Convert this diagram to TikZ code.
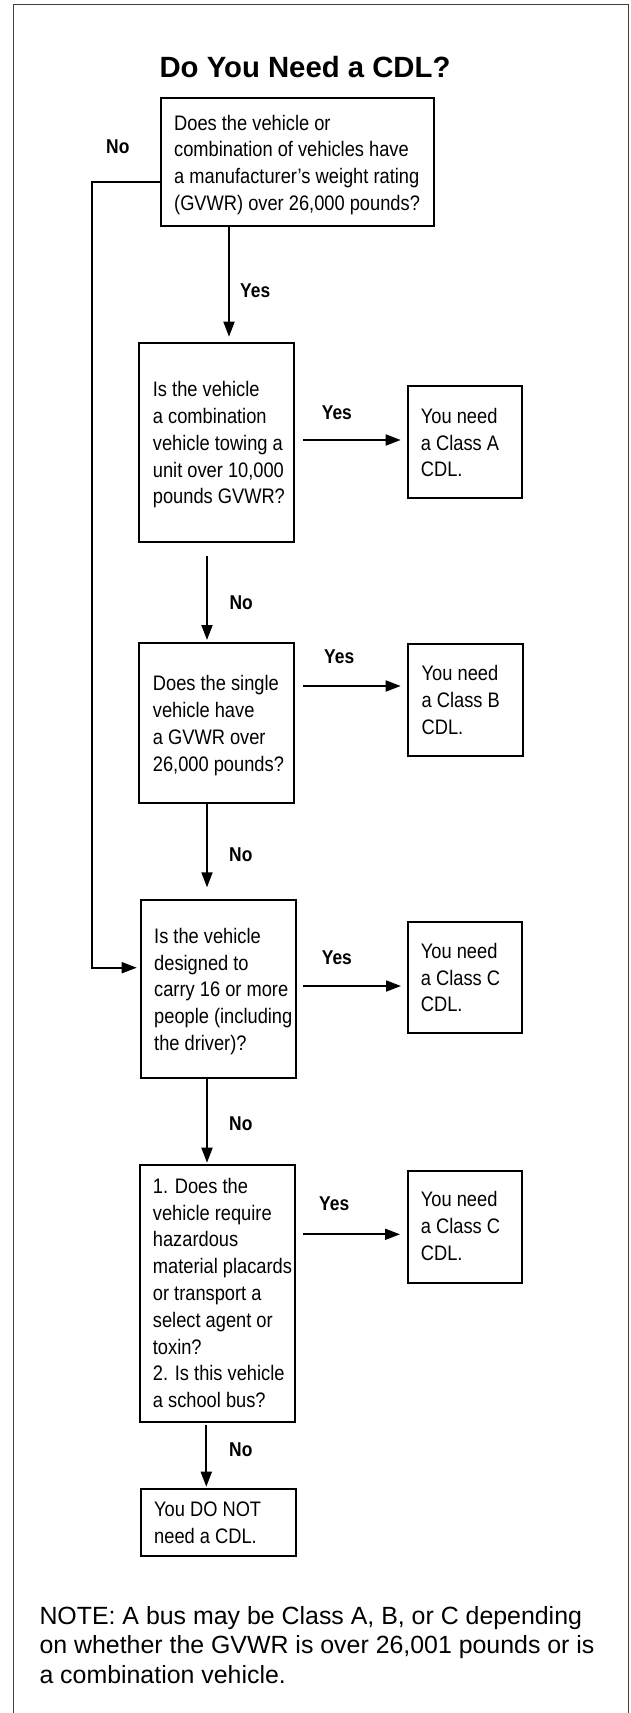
\documentclass[tikz,border=0pt]{standalone}
\usepackage{fontspec}
\setmainfont{Liberation Sans}
\newfontfamily\narrowfont[FakeStretch=0.87]{Liberation Sans}
\usetikzlibrary{arrows.meta}
\begin{document}
\begin{tikzpicture}[x=1pt,y=-1pt,
  box/.style={draw=black, line width=1.8pt, inner sep=0pt, outer sep=0pt},
  arr/.style={line width=1.8pt, -{Triangle[length=15pt,width=11pt]}},
  boxtext/.style={anchor=base west, inner sep=0pt, font=\narrowfont\fontsize{21}{26.8}\selectfont},
  lab/.style={anchor=base west, inner sep=0pt, font=\narrowfont\bfseries\fontsize{20}{24}\selectfont}]
\useasboundingbox (0,0) rectangle (630,1713);
% frame
\draw[line width=1.3pt, black!75] (13.5,1725) -- (13.5,4.8) -- (628.3,4.8) -- (628.3,1725);
% title
\node[anchor=base, inner sep=0pt, font=\bfseries\fontsize{29.3}{35}\selectfont] (title) at (305,77) {Do You Need a CDL?};
% boxes
\node[box, minimum width=273pt, minimum height=127.4pt] (b1) at (297.2,162) {};
\node[box, minimum width=155pt, minimum height=199pt] (b2) at (216.8,442.8) {};
\node[box, minimum width=155pt, minimum height=159.4pt] (b3) at (216.8,723) {};
\node[box, minimum width=154.7pt, minimum height=177.7pt] (b4) at (218.35,988.85) {};
\node[box, minimum width=155pt, minimum height=256.4pt] (b5) at (217.5,1293.5) {};
\node[box, minimum width=155pt, minimum height=66.4pt] (b6) at (218.2,1522.5) {};
\node[box, minimum width=114.3pt, minimum height=111.7pt] (cA) at (464.85,441.85) {};
\node[box, minimum width=114.4pt, minimum height=112pt] (cB) at (465.5,700) {};
\node[box, minimum width=114.3pt, minimum height=111.6pt] (cC1) at (464.85,977.5) {};
\node[box, minimum width=114.3pt, minimum height=112.3pt] (cC2) at (464.85,1227.15) {};
% box texts
\node[boxtext] (t1) at (174,130) {\begin{minipage}[t]{262pt}\raggedright Does the vehicle or\\combination of vehicles have\\a manufacturer’s weight rating\\(GVWR) over 26,000 pounds?\end{minipage}};
\node[boxtext] (t2) at (152.7,396.7) {\begin{minipage}[t]{145pt}\raggedright Is the vehicle\\a combination\\vehicle towing a\\unit over 10,000\\pounds GVWR?\end{minipage}};
\node[boxtext] (t3) at (152.7,690.7) {\begin{minipage}[t]{145pt}\raggedright Does the single\\vehicle have\\a GVWR over\\26,000 pounds?\end{minipage}};
\node[boxtext] (t4) at (154,943.3) {\begin{minipage}[t]{145pt}\raggedright Is the vehicle\\designed to\\carry 16 or more\\people (including\\the driver)?\end{minipage}};
\node[boxtext] (t5) at (152.7,1193.3) {\begin{minipage}[t]{145pt}\raggedright 1. Does the\\vehicle require\\hazardous\\material placards\\or transport a\\select agent or\\toxin?\\2. Is this vehicle\\a school bus?\end{minipage}};
\node[boxtext] (t6) at (154,1516.7) {\begin{minipage}[t]{145pt}\raggedright You DO NOT\\need a CDL.\end{minipage}};
\node[boxtext] (tA) at (420.7,423.3) {\begin{minipage}[t]{105pt}\raggedright You need\\a Class A\\CDL.\end{minipage}};
\node[boxtext] (tB) at (421.5,680.7) {\begin{minipage}[t]{105pt}\raggedright You need\\a Class B\\CDL.\end{minipage}};
\node[boxtext] (tC1) at (420.7,958.3) {\begin{minipage}[t]{105pt}\raggedright You need\\a Class C\\CDL.\end{minipage}};
\node[boxtext] (tC2) at (420.7,1206.7) {\begin{minipage}[t]{105pt}\raggedright You need\\a Class C\\CDL.\end{minipage}};
% note
\node[anchor=base west, inner sep=0pt, font=\fontsize{24.9}{29.5}\selectfont] (note) at (39.3,1624) {\begin{minipage}[t]{590pt}\raggedright NOTE: A bus may be Class A, B, or C depending\\on whether the GVWR is over 26,001 pounds or is\\a combination vehicle.\end{minipage}};
% helper coordinates
\coordinate (xY) at (229,0);
\coordinate (xD) at (207,0);
\coordinate (xD2) at (206.3,0);
\coordinate (xN) at (92.3,0);
\coordinate (yN1) at (0,181.7);
\coordinate (yN2) at (0,967.7);
\coordinate (yA) at (0,440);
\coordinate (yB) at (0,686);
\coordinate (yC1) at (0,986);
\coordinate (yC2) at (0,1234.3);
% connectors
\draw[arr, shorten >=6.6pt] (b1.south -| xY) -- (b2.north -| xY);
\draw[arr, shorten >=4.3pt] (b1.west |- yN1) -| (xN |- yN2) -- (b4.west |- yN2);
\draw[arr, shorten <=9pt, shorten >=7pt] (b2.east |- yA) -- (cA.west |- yA);
\draw[arr, shorten <=9pt, shorten >=7.6pt] (b3.east |- yB) -- (cB.west |- yB);
\draw[arr, shorten <=7.6pt, shorten >=6.7pt] (b4.east |- yC1) -- (cC1.west |- yC1);
\draw[arr, shorten <=8pt, shorten >=7.7pt] (b5.east |- yC2) -- (cC2.west |- yC2);
\draw[arr, shorten <=13.4pt, shorten >=3.3pt] (b2.south -| xD) -- (b3.north -| xD);
\draw[arr, shorten >=12.7pt] (b3.south -| xD) -- (b4.north -| xD);
\draw[arr, shorten >=2.6pt] (b4.south -| xD) -- (b5.north -| xD);
\draw[arr, shorten <=3.3pt, shorten >=2.6pt] (b5.south -| xD2) -- (b6.north -| xD2);
% labels
\node[lab] (l1) at (106,153) {No};
\node[lab] (l2) at (240,297) {Yes};
\node[lab] (l3) at (321.7,419) {Yes};
\node[lab] (l4) at (229.3,609.3) {No};
\node[lab] (l5) at (324,663.3) {Yes};
\node[lab] (l6) at (229,861) {No};
\node[lab] (l7) at (321.7,964.3) {Yes};
\node[lab] (l8) at (229,1130) {No};
\node[lab] (l9) at (319,1210.5) {Yes};
\node[lab] (l10) at (229,1456) {No};
\end{tikzpicture}
\end{document}
